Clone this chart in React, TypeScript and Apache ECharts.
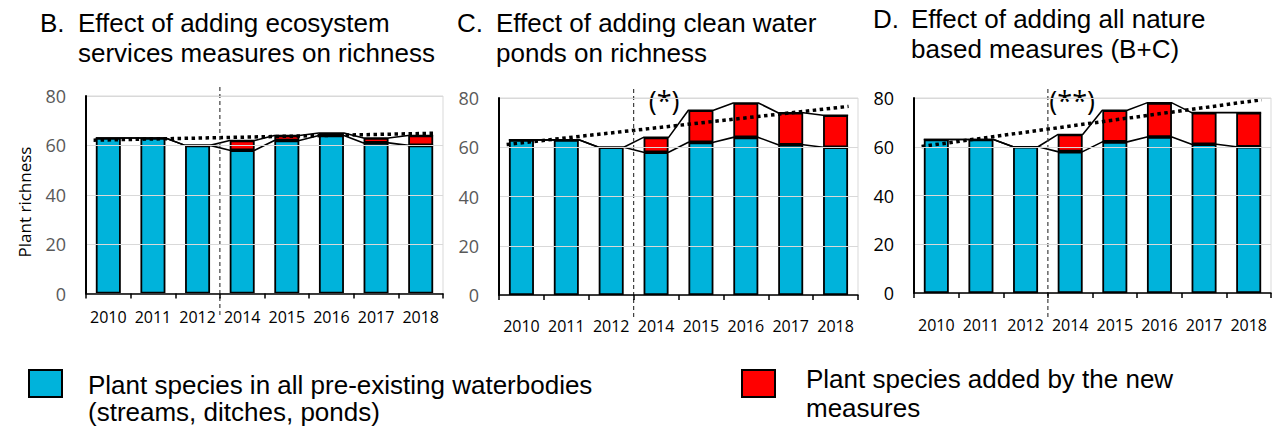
import React, { useEffect, useRef } from "react";
import * as echarts from "echarts";

// ---------- data ----------
const years = ["2010", "2011", "2012", "2014", "2015", "2016", "2017", "2018"];
const preExisting = [63, 63, 60, 58, 62, 64, 61, 60];
const addedB = [0, 0, 0, 4, 2, 1, 2, 4];
const addedC = [0, 0, 0, 6, 13, 14, 13, 13];
const addedD = [0, 0, 0, 7, 13, 14, 13, 14];
const trendB = [62.1, 64.9];
const trendC = [61.1, 76.6];
const trendD = [60.1, 79.3];
const trendX = [-0.33, 7.29];
const breakAt = 2.5; // boundary between 2012 and 2014
const yMax = 80;
const yStep = 20;

const titles = [
  ["B.", "Effect of adding ecosystem", "services measures on richness"],
  ["C.", "Effect of adding clean water", "ponds on richness"],
  ["D.", "Effect of adding all nature", "based measures (B+C)"],
];
const marks = ["", "(*)", "(**)"];
const legendLabels = [
  ["Plant species in all pre-existing waterbodies", "(streams, ditches, ponds)"],
  ["Plant species added by the new", "measures"],
];

const BLUE = "#00B3DB";
const RED = "#FF0000";
const TITLE_FONT = "26px 'Liberation Sans'";

const panels = [
  { grid: { left: 86, top: 96, right: 835, bottom: 133.5 }, added: addedB, trend: trendB, yColor: "#595959", labelMargin: 15, titleX: 40, textX: 78, titleY: 23 },
  { grid: { left: 499, top: 98, right: 420, bottom: 132 }, added: addedC, trend: trendC, yColor: "#595959", labelMargin: 23, titleX: 457, textX: 496, titleY: 23 },
  { grid: { left: 914, top: 98, right: 7, bottom: 134 }, added: addedD, trend: trendD, yColor: "#000000", labelMargin: 24, titleX: 873, textX: 911, titleY: 19 },
];

const HW = 0.28; // half bar width in category units

function stepPoints(tops: number[]) {
  const pts: number[][] = [];
  tops.forEach((v, j) => {
    pts.push([j - HW, v]);
    pts.push([j + HW, v]);
  });
  return pts;
}

function buildOption() {
  const grid: any[] = [];
  const xAxis: any[] = [];
  const yAxis: any[] = [];
  const series: any[] = [];
  const graphic: any[] = [];

  panels.forEach((p, i) => {
    grid.push({
      ...p.grid,
      show: true,
      borderColor: "#d9d9d9",
      borderWidth: 1,
      backgroundColor: "transparent",
    });
    xAxis.push({
      type: "category",
      gridIndex: i,
      data: years,
      boundaryGap: true,
      position: "bottom",
      axisLine: { show: true, onZero: false, lineStyle: { color: "#000", width: 1.5 } },
      axisTick: { show: true, length: 5, lineStyle: { color: "#000", width: 1.5 }, interval: 0 },
      axisLabel: {
        interval: 0,
        color: "#000",
        fontFamily: "Open Sans",
        fontSize: 16,
        margin: p.labelMargin,
      },
      splitLine: { show: false },
      z: 10,
    });
    xAxis.push({
      type: "value",
      gridIndex: i,
      min: -0.5,
      max: 7.5,
      show: false,
      axisLine: { onZero: false },
    });
    yAxis.push({
      type: "value",
      gridIndex: i,
      position: "left",
      min: 0,
      max: yMax,
      interval: yStep,
      axisLine: { show: true, onZero: false, lineStyle: { color: "#000", width: 2 } },
      axisTick: { show: false },
      axisLabel: { color: p.yColor, fontFamily: "Open Sans", fontSize: 18, margin: 20 },
      splitLine: { show: true, lineStyle: { color: "#d9d9d9", width: 1.2 } },
      z: 10,
    });

    const totals = preExisting.map((v, j) => v + p.added[j]);

    series.push({
      type: "bar",
      xAxisIndex: i * 2,
      yAxisIndex: i,
      stack: "s" + i,
      barWidth: 25,
      data: preExisting,
      itemStyle: { color: BLUE, borderColor: "#000", borderWidth: 1.8 },
      z: 2,
    });
    series.push({
      type: "bar",
      xAxisIndex: i * 2,
      yAxisIndex: i,
      stack: "s" + i,
      barWidth: 25,
      data: p.added.map((v) => (v === 0 ? "-" : v)),
      itemStyle: { color: RED, borderColor: "#000", borderWidth: 1.8 },
      z: 2,
    });
    // series lines connecting tops
    [preExisting, totals].forEach((tops) => {
      series.push({
        type: "line",
        xAxisIndex: i * 2 + 1,
        yAxisIndex: i,
        data: stepPoints(tops),
        symbol: "none",
        lineStyle: { color: "#000", width: 1.6 },
        z: 3,
        silent: true,
      });
    });
    // trend line
    series.push({
      type: "line",
      xAxisIndex: i * 2 + 1,
      yAxisIndex: i,
      data: [
        [trendX[0], p.trend[0]],
        [trendX[1], p.trend[1]],
      ],
      symbol: "none",
      lineStyle: { color: "#000", width: 3.5, type: [3.5, 3.5] },
      z: 4,
      silent: true,
    });
    // vertical break line
    series.push({
      type: "custom",
      xAxisIndex: i * 2 + 1,
      yAxisIndex: i,
      clip: false,
      z: 5,
      silent: true,
      data: [[breakAt, yMax]],
      renderItem: (params: any, api: any) => {
        const t = api.coord([breakAt, yMax]);
        const b = api.coord([breakAt, 0]);
        return {
          type: "line",
          shape: { x1: t[0], y1: t[1] - 9, x2: t[0], y2: b[1] + 24 },
          style: { stroke: "#404040", lineWidth: 1.2, lineDash: [4, 3] },
        };
      },
    });
    // significance mark
    if (marks[i]) {
      series.push({
        type: "custom",
        xAxisIndex: i * 2 + 1,
        yAxisIndex: i,
        clip: false,
        z: 6,
        silent: true,
        data: [[3, yMax]],
        renderItem: (params: any, api: any) => {
          const c = api.coord([3, yMax]);
          return {
            type: "text",
            x: c[0] + (i === 1 ? 8 : 2),
            y: c[1] + 2,
            style: {
              text: marks[i],
              font: "27px 'Open Sans'",
              fill: "#000",
              align: "center",
              verticalAlign: "middle",
            },
          };
        },
      });
    }

    // titles
    graphic.push({
      type: "text",
      x: p.titleX,
      y: p.titleY,
      style: { text: titles[i][0], font: TITLE_FONT, fill: "#000", verticalAlign: "middle" },
    });
    graphic.push({
      type: "text",
      x: p.textX,
      y: p.titleY,
      style: { text: titles[i][1], font: TITLE_FONT, fill: "#000", verticalAlign: "middle" },
    });
    graphic.push({
      type: "text",
      x: p.textX,
      y: p.titleY + 30,
      style: { text: titles[i][2], font: TITLE_FONT, fill: "#000", verticalAlign: "middle" },
    });
  });

  // y axis title
  graphic.push({
    type: "text",
    x: 24,
    y: 202,
    rotation: Math.PI / 2,
    style: {
      text: "Plant richness",
      font: "17px 'Open Sans'",
      fill: "#000",
      align: "center",
      verticalAlign: "middle",
    },
  });

  // legend
  const legendItems = [
    { color: BLUE, box: [29, 370], textX: 88, lineY: [385, 412] },
    { color: RED, box: [742, 370], textX: 806, lineY: [379, 408] },
  ];
  legendItems.forEach((it, k) => {
    graphic.push({
      type: "rect",
      shape: { x: it.box[0], y: it.box[1], width: 33, height: 27 },
      style: { fill: it.color, stroke: "#000", lineWidth: 2 },
    });
    legendLabels[k].forEach((line, m) => {
      graphic.push({
        type: "text",
        x: it.textX,
        y: it.lineY[m],
        style: { text: line, font: TITLE_FONT, fill: "#000", verticalAlign: "middle" },
      });
    });
  });

  return {
    animation: false,
    backgroundColor: "#fff",
    grid,
    xAxis,
    yAxis,
    series,
    graphic,
  };
}

export default function App() {
  const ref = useRef<HTMLDivElement>(null);
  useEffect(() => {
    if (!ref.current) return;
    const chart = echarts.init(ref.current, undefined, { renderer: "svg" });
    chart.setOption(buildOption() as any);
    return () => chart.dispose();
  }, []);
  return (
    <div
      ref={ref}
      style={{ position: "fixed", left: 0, top: 0, width: 1278, height: 427 }}
    />
  );
}
